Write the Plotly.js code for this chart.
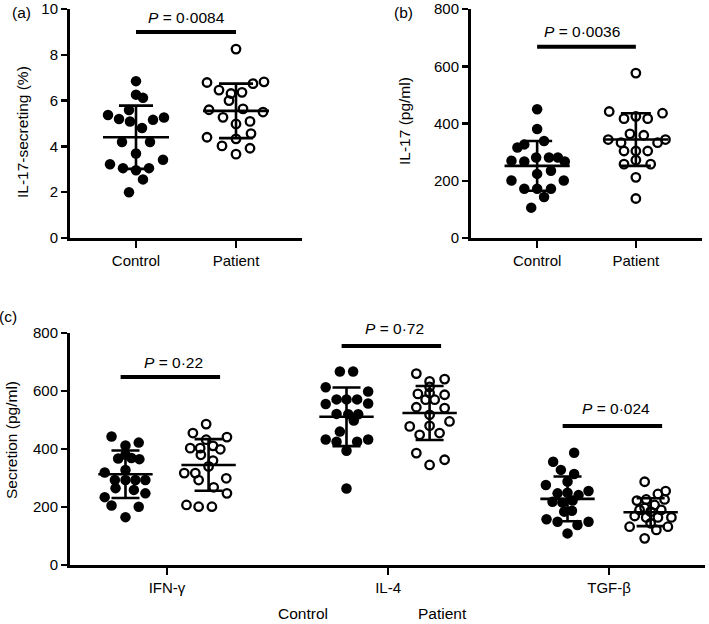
<!DOCTYPE html>
<html>
<head>
<meta charset="utf-8">
<script src="https://cdn.plot.ly/plotly-3.0.1.min.js"></script>
<style>
  html, body { margin: 0; padding: 0; background: #fff; }
  #plot { width: 709px; height: 624px; }
</style>
</head>
<body>
<div id="plot"></div>
<script>
// ---- panel (a): IL-17-secreting (%) ----
const aCats = ["Control", "Patient"];
const aCtrl = [6.85, 6.26, 6.12, 5.59, 5.37, 5.2, 5.09, 5.16, 5.26, 4.8, 4.19, 4.19, 3.69, 3.42, 3.22, 3.05, 2.96, 3.05, 2.56, 2.0];
const aCtrlJit = [0, 0, 0.07, -0.07, -0.28, -0.17, -0.06, 0.17, 0.28, 0.06, -0.14, 0.14, 0, 0.27, -0.26, -0.13, 0, 0.13, 0.07, -0.07];
const aPat = [8.25, 6.79, 6.82, 6.74, 6.46, 6.31, 6.36, 6.0, 5.6, 5.64, 5.5, 5.27, 4.98, 5.09, 4.4, 4.56, 4.33, 4.02, 3.92, 3.66];
const aPatJit = [0, -0.29, 0.28, 0.17, -0.17, -0.05, 0.06, -0.07, -0.27, 0.07, 0.27, -0.13, 0, 0.14, -0.29, 0.15, 0, -0.14, 0.14, 0];
const aMean = [4.40, 5.55];
const aSD = [1.38, 1.19];
const aPval = "0·0084";
const aBarY = 9;

// ---- panel (b): IL-17 (pg/ml) ----
const bCats = ["Control", "Patient"];
const bCtrl = [450, 381, 316, 327, 339, 270, 267, 281, 281, 281, 267, 224, 235, 201, 201, 172, 172, 172, 143, 106];
const bCtrlJit = [0, 0, -0.2, -0.13, 0.07, -0.26, -0.13, -0.01, 0.12, 0.21, 0.28, 0, 0.14, -0.26, 0.27, -0.13, 0, 0.14, 0.07, -0.06];
const bPat = [576, 442, 436, 417, 417, 425, 364, 359, 344, 344, 333, 333, 304, 304, 304, 258, 258, 272, 212, 138];
const bPatJit = [0, -0.27, 0.27, -0.12, 0.12, 0, -0.06, 0.08, -0.28, 0.3, -0.15, 0.22, -0.12, 0, 0.12, -0.12, 0.15, 0, 0, 0];
const bMean = [252, 344];
const bSD = [87, 92];
const bPval = "0·0036";
const bBarY = 668;

// ---- panel (c): Secretion (pg/ml) ----
const cCats = ["IFN-γ", "IL-4", "TGF-β"];
const cCtrl = [
  [443, 412, 422, 367, 369, 365, 380, 319, 293, 293, 293, 293, 265, 259, 247, 234, 205, 201, 165, 328],
  [667, 667, 613, 598, 571, 571, 571, 555, 557, 521, 520, 520, 498, 460, 433, 425, 425, 433, 394, 264],
  [387, 356, 328, 314, 276, 255, 247, 241, 249, 218, 215, 222, 184, 187, 158, 149, 138, 149, 109, 288]
];
const cCtrlJit = [
  [-0.063, 0, 0.06, -0.033, 0.027, 0.063, 0, -0.094, -0.048, 0, 0.045, 0.09, -0.045, 0.038, 0.09, -0.094, -0.063, 0.06, 0, 0],
  [-0.03, 0.03, -0.094, 0.098, -0.045, 0, 0.048, -0.094, 0.098, -0.045, 0.008, 0.053, 0.033, -0.03, -0.094, -0.045, 0.048, 0.098, 0, 0],
  [0.03, -0.065, -0.03, 0.03, -0.098, 0.095, -0.045, 0.05, 0, -0.068, -0.023, 0.023, -0.015, 0.02, -0.095, -0.045, 0.045, 0.095, 0, 0]
];
const cPat = [
  [486, 455, 432, 441, 403, 403, 399, 411, 380, 360, 317, 317, 293, 299, 268, 247, 207, 201, 201, 340],
  [660, 633, 641, 590, 593, 587, 570, 544, 541, 518, 495, 478, 480, 449, 455, 386, 363, 345, 614, 570],
  [287, 255, 245, 222, 226, 226, 207, 197, 169, 164, 164, 164, 132, 121, 132, 92, 184, 190, 190, 144]
];
const cPatJit = [
  [-0.011, -0.071, -0.011, 0.083, -0.083, -0.038, 0.053, 0.02, -0.035, 0.02, -0.11, -0.06, -0.045, 0.08, 0.023, 0.083, -0.1, -0.045, 0.015, 0],
  [-0.06, 0, 0.068, -0.053, 0, 0.068, 0.023, -0.06, 0.068, 0, 0.09, -0.09, 0, -0.045, 0.045, -0.06, 0.068, 0, 0, -0.018],
  [-0.027, 0.068, 0.033, -0.062, -0.02, 0.063, 0.018, -0.027, -0.072, -0.02, 0.033, 0.094, -0.095, 0.026, 0.078, -0.027, 0, -0.05, 0.048, 0]
];
const cCtrlMean = [313, 511, 228];
const cCtrlSD = [82, 101, 77];
const cPatMean = [345, 524, 182];
const cPatSD = [89, 93, 48];
const cPval = ["0·22", "0·72", "0·024"];
const cBarY = [648, 755, 479];
const cTextY = [697, 817, 541];

const FONT = "Liberation Sans, Arial, Helvetica, sans-serif";
const W = 709, H = 624;
const px = v => v / W;        // pixel -> paper x
const py = v => 1 - v / H;    // pixel -> paper y

const traces = [];

// one group of dots with its mean line and SD bar
function addGroup(xa, ya, center, vals, jit, filled, mean, sd, halfMean, cap) {
  traces.push({
    type: "scatter", mode: "markers", xaxis: xa, yaxis: ya,
    x: vals.map((v, i) => center + jit[i]), y: vals,
    marker: filled
      ? { symbol: "circle", size: 10.5, color: "black" }
      : { symbol: "circle-open", size: 8.5, color: "black", line: { width: 2.3, color: "black" } },
    hoverinfo: "y", showlegend: false, cliponaxis: false
  });
  traces.push({
    type: "scatter", mode: "lines", xaxis: xa, yaxis: ya,
    x: [center - halfMean, center + halfMean], y: [mean, mean],
    line: { color: "black", width: 2.6 }, hoverinfo: "skip", showlegend: false
  });
  traces.push({
    type: "scatter", mode: "markers", xaxis: xa, yaxis: ya,
    x: [center], y: [mean], marker: { size: 1, color: "rgba(0,0,0,0)" },
    error_y: { type: "data", array: [sd], color: "black", thickness: 2.6, width: cap },
    hoverinfo: "skip", showlegend: false
  });
}

addGroup("x", "y", 0, aCtrl, aCtrlJit, true, aMean[0], aSD[0], 0.33, 17);
addGroup("x", "y", 1, aPat, aPatJit, false, aMean[1], aSD[1], 0.33, 17);
addGroup("x2", "y2", 0, bCtrl, bCtrlJit, true, bMean[0], bSD[0], 0.33, 15);
addGroup("x2", "y2", 1, bPat, bPatJit, false, bMean[1], bSD[1], 0.33, 15);
const off = 0.188;
cCats.forEach((c, i) => {
  addGroup("x3", "y3", i - off, cCtrl[i], cCtrlJit[i], true, cCtrlMean[i], cCtrlSD[i], 0.123, 14);
  addGroup("x3", "y3", i + off, cPat[i], cPatJit[i], false, cPatMean[i], cPatSD[i], 0.123, 14);
});

// significance bars; text placed against the axis domain so it may sit above the range
const shapes = [];
const annotations = [];
function addP(xr, yr, yMax, x0, x1, y, ty, label, tx) {
  shapes.push({ type: "line", xref: xr, yref: yr, x0: x0, x1: x1, y0: y, y1: y, line: { color: "black", width: 4 } });
  annotations.push({ xref: xr, yref: yr + " domain", x: tx, y: ty / yMax, xanchor: "center", yanchor: "middle",
    text: "<i>P</i> = " + label, showarrow: false,
    font: { family: FONT, size: 15.5, color: "black" } });
}
addP("x", "y", 10, 0, 1, aBarY, 9.65, aPval, 0.5);
addP("x2", "y2", 800, 0, 1, bBarY, 722, bPval, 0.45);
cCats.forEach((c, i) => addP("x3", "y3", 800, i - 0.21, i + 0.24, cBarY[i], cTextY[i], cPval[i], i + 0.03));

// panel letters, axis titles, bottom group key
function note(text, x, y, angle) {
  annotations.push({ xref: "paper", yref: "paper", x: px(x), y: py(y), text: text, showarrow: false,
    textangle: angle || 0, xanchor: "center", yanchor: "middle",
    font: { family: FONT, size: 15.5, color: "black" } });
}
note("(a)", 21, 12);
note("(b)", 403, 12);
note("(c)", 8, 316);
note("IL-17-secreting (%)", 22, 132, -90);
note("IL-17 (pg/ml)", 405, 121, -90);
note("Secretion (pg/ml)", 11, 440, -90);
note(aCats[0], 303, 613);
note(aCats[1], 442, 613);

const axisBase = {
  showline: true, linewidth: 3, linecolor: "black", mirror: false,
  ticks: "outside", ticklen: 6, tickwidth: 2.5, tickcolor: "black",
  showgrid: false, zeroline: false, fixedrange: true,
  ticklabeloverflow: "allow",
  tickfont: { family: FONT, size: 15, color: "black" }
};

const layout = {
  width: W, height: H,
  margin: { l: 0, r: 0, t: 0, b: 0 },
  paper_bgcolor: "white", plot_bgcolor: "white",
  font: { family: FONT, color: "black" },
  showlegend: false,
  xaxis: Object.assign({}, axisBase, { domain: [px(70), px(302)], range: [-0.66, 1.66], tickvals: [0, 1], ticktext: aCats, anchor: "y", ticklen: 7 }),
  yaxis: Object.assign({}, axisBase, { domain: [py(238), py(9)], range: [0, 10], dtick: 2, anchor: "x" }),
  xaxis2: Object.assign({}, axisBase, { domain: [px(471), px(702)], range: [-0.67, 1.67], tickvals: [0, 1], ticktext: bCats, anchor: "y2", ticklen: 7 }),
  yaxis2: Object.assign({}, axisBase, { domain: [py(238), py(9)], range: [0, 800], dtick: 200, anchor: "x2" }),
  xaxis3: Object.assign({}, axisBase, { domain: [px(70), px(705)], range: [-0.439, 2.434], tickvals: [0, 1, 2], ticktext: cCats, anchor: "y3", ticklen: 7 }),
  yaxis3: Object.assign({}, axisBase, { domain: [py(565), py(333)], range: [0, 800], dtick: 200, anchor: "x3" }),
  shapes: shapes,
  annotations: annotations
};

Plotly.newPlot("plot", traces, layout, { displayModeBar: false, staticPlot: true });
</script>
</body>
</html>
